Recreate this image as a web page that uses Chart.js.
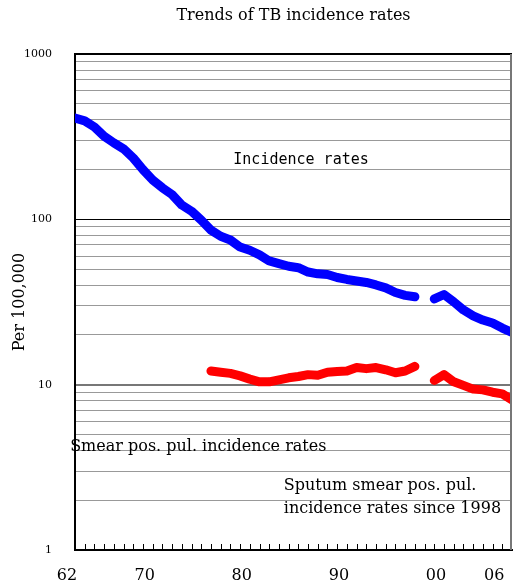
<!DOCTYPE html>
<html><head><meta charset="utf-8">
<script src="https://cdn.jsdelivr.net/npm/chart.js@4/dist/chart.umd.min.js"></script>
<style>html,body{margin:0;padding:0;background:#fff}#wrap{width:513px;height:583px}</style>
</head><body><div id="wrap"><canvas id="tb"></canvas></div>
<script>
const title='Trends of TB incidence rates';
const years=[1962,1963,1964,1965,1966,1967,1968,1969,1970,1971,1972,1973,1974,1975,1976,1977,1978,1979,1980,1981,1982,1983,1984,1985,1986,1987,1988,1989,1990,1991,1992,1993,1994,1995,1996,1997,1998,1999,2000,2001,2002,2003,2004,2005,2006,2007];
// all notified cases per 100,000 (gap = 1998 change of definition)
const incidence=[410,394,362,318,290,267,235,200,173,155,141,122,112,99,86,79,75,68,65,61,56,54,52,51,48,46.8,46.4,44.5,43.3,42.4,41.5,40.1,38.5,36.1,34.7,34,null,33,35.1,31.7,28.3,26.1,24.6,23.6,22.0,20.7];
// smear positive pulmonary
const smearPos=[null,null,null,null,null,null,null,null,null,null,null,null,null,null,12.1,11.9,11.7,11.3,10.8,10.4,10.4,10.7,11.0,11.2,11.5,11.4,11.9,12.0,12.1,12.7,12.5,12.7,12.3,11.8,12.1,12.9,null,10.6,11.5,10.4,9.9,9.4,9.3,9.0,8.8,8.1];
const xLabels=[1962,1970,1980,1990,2000,2006];
const yTicks=[1,2,3,4,5,6,7,8,9,10,20,30,40,50,60,70,80,90,100,200,300,400,500,600,700,800,900,1000];
const yLabels=[1,10,100,1000];

const serif='"DejaVu Serif", serif';

/* títulos, marcas de año y rótulos */
const notes={
  id:'notes',
  afterDraw(c){
    const {ctx,chartArea:a,scales:{x,y}}=c;
    ctx.save();
    ctx.strokeStyle='#000';ctx.lineWidth=1;
    for(let t=1963;t<=2006;t++){
      const px=Math.round(x.getPixelForValue(t))+.5;
      ctx.beginPath();ctx.moveTo(px,a.bottom-1);ctx.lineTo(px,a.bottom-6);ctx.stroke();
    }
    ctx.strokeStyle='#777';ctx.lineWidth=2;
    ctx.beginPath();ctx.moveTo(a.right-1,a.top);ctx.lineTo(a.right-1,a.bottom);ctx.stroke();
    ctx.fillStyle='#000';ctx.textBaseline='middle';
    ctx.textAlign='center';ctx.font='16px '+serif;
    ctx.fillText(title,(a.left+a.right)/2,16);
    ctx.textAlign='left';
    ctx.font='15px "DejaVu Sans Mono", monospace';
    ctx.fillText('Incidence rates',x.getPixelForValue(1978.3),y.getPixelForValue(229));
    ctx.font='16px '+serif;
    ctx.fillText('Smear pos. pul. incidence rates',x.getPixelForValue(1961.5),y.getPixelForValue(4.2));
    ctx.fillText('Sputum smear pos. pul.',x.getPixelForValue(1983.5),y.getPixelForValue(2.44));
    ctx.fillText('incidence rates since 1998',x.getPixelForValue(1983.5),y.getPixelForValue(1.77));
    ctx.restore();
  }
};

const line=(vals,col)=>({
  data:years.map((yr,i)=>({x:yr,y:vals[i]})),
  borderColor:col,backgroundColor:col,borderWidth:9,pointRadius:0,
  borderCapStyle:'round',borderJoinStyle:'round',spanGaps:false,clip:0,tension:0
});

new Chart(document.getElementById('tb'),{
  type:'line',
  data:{datasets:[line(incidence,'#0000ff'),line(smearPos,'#ff0000')]},
  options:{
    responsive:true,maintainAspectRatio:false,animation:false,
    layout:{padding:{top:54,right:1,bottom:0,left:0}},
    plugins:{legend:{display:false},tooltip:{enabled:false},title:{display:false}},
    scales:{
      x:{
        type:'linear',min:1962,max:2007,
        afterBuildTicks:s=>{s.ticks=xLabels.map(v=>({value:v}));},
        afterFit:s=>{s.height=33;s.paddingLeft=0;s.paddingRight=0;},
        grid:{display:false},
        border:{color:'#000',width:2},
        ticks:{autoSkip:false,maxRotation:0,padding:8,labelOffset:-8,color:'#000',font:{family:serif,size:16},
          callback:v=>String(v%100).padStart(2,'0')}
      },
      y:{
        type:'logarithmic',min:1,max:1000,
        afterBuildTicks:s=>{s.ticks=yTicks.map(v=>({value:v}));},
        afterFit:s=>{s.width=75;s.paddingTop=0;s.paddingBottom=0;},
        border:{color:'#000',width:2},
        grid:{drawTicks:false,
          color:c=>c.tick.value===100||c.tick.value===1000?'#000':c.tick.value===10?'#777':'#999',
          lineWidth:c=>c.tick.value===10||c.tick.value===1000?2:1},
        ticks:{padding:23,color:'#000',font:{family:serif,size:11},
          callback:v=>yLabels.includes(v)?String(v):''},
        title:{display:true,text:'Per 100,000',color:'#000',font:{family:serif,size:16},padding:{top:10,bottom:0}}
      }
    }
  },
  plugins:[notes]
});
</script>
</body></html>
